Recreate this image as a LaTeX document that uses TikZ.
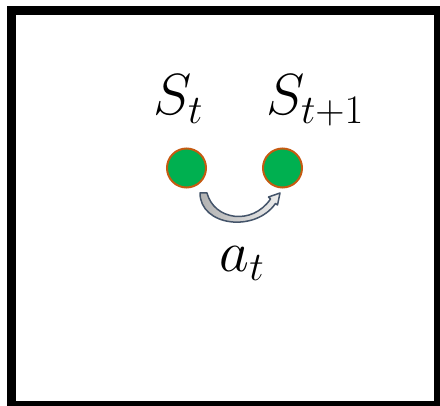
\RequirePackage{fix-cm}
\documentclass[tikz,border=0pt]{standalone}
\usepackage{amsmath,amssymb}
\usepackage{xcolor}
\usepackage{tikz}
\usetikzlibrary{calc,positioning}
\definecolor{Ink}{HTML}{000000}
\definecolor{StateFill}{HTML}{00B050}
\definecolor{StateRim}{HTML}{C55A11}
\definecolor{ArrowRim}{HTML}{44546A}
\begin{document}
\begin{tikzpicture}[x=1pt,y=-1pt,
  state/.style={circle,fill=StateFill,draw=StateRim,line width=2pt,minimum size=39pt,inner sep=0pt},
  lbl/.style={font=\fontsize{58}{62}\selectfont,inner sep=0pt,anchor=base}]
  \useasboundingbox (0,0) rectangle (440,406);
  \draw[Ink,line width=8.5pt] (11.5,10.5) rectangle (438.5,405);
  \node[state] (st) at (186.5,168) {};
  \node[state] (snext) at (282.5,168) {};
  \node[lbl] (stlbl) at (178,115) {$S_t$};
  \node[lbl] (snextlbl) at (315,115) {$S_{t+1}$};
  \node[lbl] (atlbl) at (242,272) {$a_t$};
  % curved block arrow from st to snext
  \begin{scope}[shift={(st.center)}]
    \filldraw[ArrowRim,line width=1.5pt,left color=gray!60,right color=gray!15,line join=round]
      (13.5,25) -- (20.5,25)
      .. controls (27.5,52) and (65.5,58) .. (84,31)
      -- (82,29) -- (93.5,25) -- (91,37) -- (89,35.5)
      .. controls (68.5,65) and (13.5,58) .. (13.5,25) -- cycle;
  \end{scope}
\end{tikzpicture}
\end{document}
